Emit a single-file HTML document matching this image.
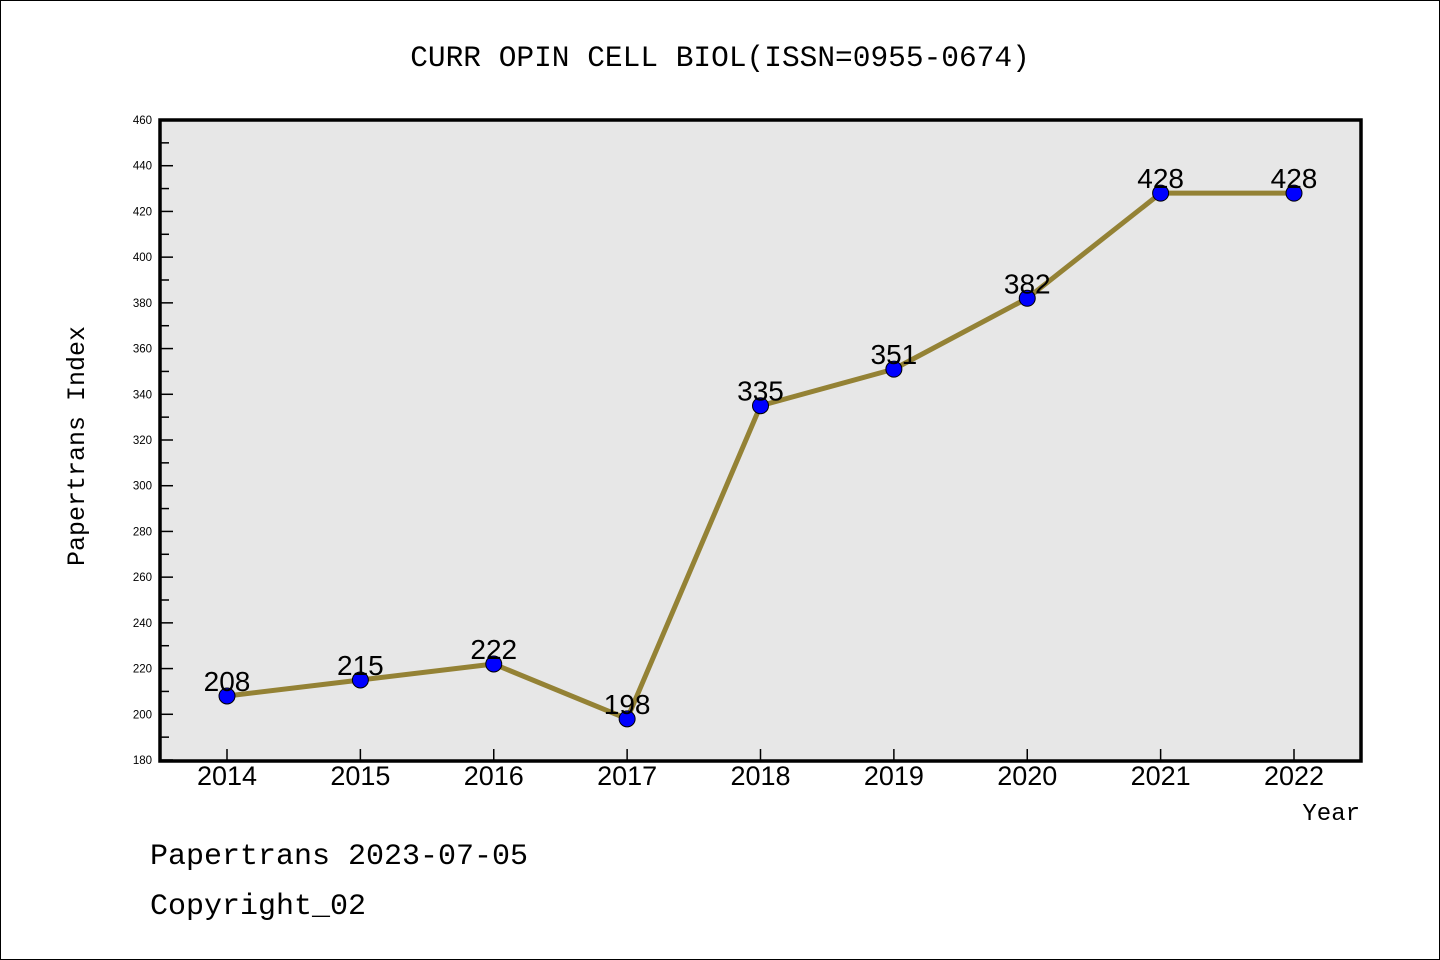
<!DOCTYPE html>
<html><head><meta charset="utf-8"><style>
body{margin:0;background:#fff}
svg{display:block}
</style></head><body>
<svg id="chart" width="1440" height="960" xmlns="http://www.w3.org/2000/svg">
<rect x="0.5" y="0.5" width="1439" height="959" fill="#fff" stroke="#000" stroke-width="1"/>
<text x="720" y="66" text-anchor="middle" font-family="Liberation Mono, monospace" font-size="29.5" fill="#000">CURR OPIN CELL BIOL(ISSN=0955-0674)</text>
<rect x="160" y="120" width="1201" height="641" fill="#e7e7e7"/>
<g id="ticks"></g>
<g id="series"></g>
<rect x="160" y="120" width="1201" height="641" fill="none" stroke="#000" stroke-width="3.5"/>
<text transform="translate(84,446) rotate(-90)" text-anchor="middle" font-family="Liberation Mono, monospace" font-size="25" fill="#000">Papertrans Index</text>
<text x="1360" y="820" text-anchor="end" font-family="Liberation Mono, monospace" font-size="24" fill="#000">Year</text>
<text x="150" y="864" font-family="Liberation Mono, monospace" font-size="30" fill="#000">Papertrans 2023-07-05</text>
<text x="150" y="914" font-family="Liberation Mono, monospace" font-size="30" fill="#000">Copyright_02</text>
</svg>
<script>
const years = [2014,2015,2016,2017,2018,2019,2020,2021,2022];
const values = [208,215,222,198,335,351,382,428,428];
const yTicks = [180,200,220,240,260,280,300,320,340,360,380,400,420,440,460];
const yMin = 180, yMax = 460;
const NS = "http://www.w3.org/2000/svg";
function xScale(i){ return 227 + i*133.375; }
function yScale(v){ return 760 - (v - yMin)/(yMax - yMin)*640; }
function mk(tag, attrs, parent){ const e=document.createElementNS(NS,tag); for(const k in attrs) e.setAttribute(k,attrs[k]); parent.appendChild(e); return e; }
const tg = document.getElementById('ticks');
const sg = document.getElementById('series');
yTicks.forEach(v=>{
  const y = yScale(v);
  const l = mk('line',{x1:160,x2:173,y1:y,y2:y,stroke:'#000','stroke-width':1.5},tg);
  
  
  const t = mk('text',{x:152,y:y+4,'text-anchor':'end','font-family':'Liberation Sans, sans-serif','font-size':11.5,fill:'#000'},tg);
  t.textContent = v;
  
  
  if (v < yMax) {
    const ym = yScale(v+10);
    const m = mk('line',{x1:160,x2:169,y1:ym,y2:ym,stroke:'#000','stroke-width':1.5},tg);
    
    
  }
});
years.forEach((yr,i)=>{
  const x = xScale(i);
  const l = mk('line',{x1:x,x2:x,y1:761,y2:749,stroke:'#000','stroke-width':1.5},tg);
  
  
  const t = mk('text',{x:x,y:785,'text-anchor':'middle','font-family':'Liberation Sans, sans-serif','font-size':27,fill:'#000'},tg);
  t.textContent = yr;
  
  
});
const pts = values.map((v,i)=>xScale(i)+','+yScale(v)).join(' ');
const pl = mk('polyline',{points:pts,fill:'none',stroke:'#948235','stroke-width':5,'stroke-linejoin':'round'},sg);


values.forEach((v,i)=>{
  const c = mk('circle',{cx:xScale(i),cy:yScale(v),r:8,fill:'#0000ff',stroke:'#000','stroke-width':1},sg);
  
  
  const t = mk('text',{x:xScale(i),y:yScale(v)-5,'text-anchor':'middle','font-family':'Liberation Sans, sans-serif','font-size':28,fill:'#000'},sg);
  t.textContent = v;
  
  
});
</script>
</body></html>
